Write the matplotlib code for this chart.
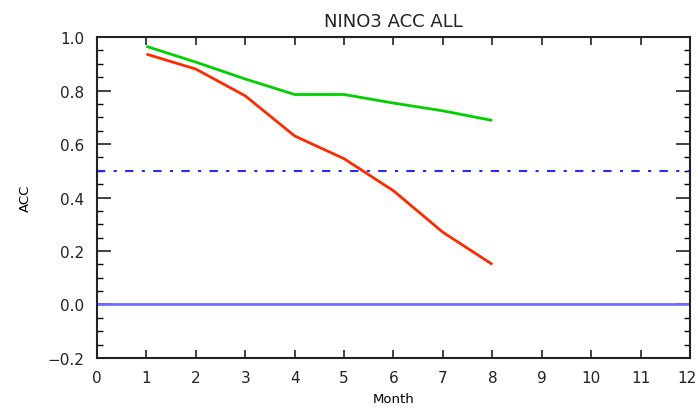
import numpy as np
import matplotlib.pyplot as plt
import matplotlib.transforms as mtransforms
from matplotlib.ticker import MultipleLocator

# data
months = [1, 2, 3, 4, 5, 6, 7, 8]
acc_green = [0.965, 0.906, 0.843, 0.785, 0.785, 0.753, 0.724, 0.688]
acc_red = [0.936, 0.880, 0.780, 0.630, 0.545, 0.425, 0.270, 0.150]
ref_dash = 0.5
ref_zero = 0.0

fig = plt.figure(figsize=(6.98, 4.10), dpi=100)
ax = fig.add_axes([0.139, 0.1244, 0.8495, 0.7829])

ax.plot(months, acc_green, color='#00d000', lw=2.0, solid_capstyle='butt')
ax.plot(months, acc_red, color='#ff2a00', lw=2.0, solid_capstyle='butt')
ax.axhline(ref_dash, color='#2a2aff', lw=1.5, linestyle=(0, (4, 4, 1.5, 4)))
ax.axhline(ref_zero, color='#6f6fff', lw=2.0)

ax.set_xlim(0, 12)
ax.set_ylim(-0.2, 1.0)
ax.set_xticks(np.arange(0, 13, 1))
ax.yaxis.set_minor_locator(MultipleLocator(0.05))
ax.set_yticks(np.arange(-0.2, 1.01, 0.2))
ax.set_yticklabels(['\u22120.2', '0.0', '0.2', '0.4', '0.6', '0.8', '1.0'])

ax.tick_params(axis='both', which='major', direction='in', top=True, right=True,
               width=1.2, labelsize=11, colors='#222222', pad=9)
ax.tick_params(axis='x', which='major', length=6)
ax.tick_params(axis='y', which='major', length=10)
ax.tick_params(axis='y', which='minor', direction='in', right=True, length=4, width=1.0)
for s in ax.spines.values():
    s.set_linewidth(1.5)
    s.set_color('#222222')

# "12" sits on the right edge in the reference; keep it just inside the figure
last = ax.xaxis.get_major_ticks()[-1].label1
last.set_horizontalalignment('right')
last.set_transform(last.get_transform() +
                   mtransforms.ScaledTranslation(7 / 100, 0, fig.dpi_scale_trans))

ax.set_title('NINO3 ACC ALL', fontsize=13, color='#222222', pad=8)
ax.set_xlabel('Month', fontsize=9.5, labelpad=5)
ax.set_ylabel('ACC', fontsize=9.5, labelpad=11)

fig.savefig('out.png', dpi=100)
